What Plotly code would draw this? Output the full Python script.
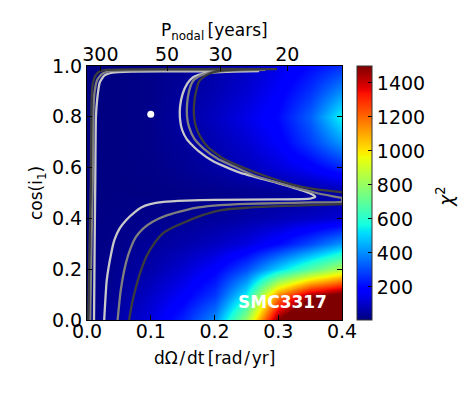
import numpy as np
import plotly.graph_objects as go

# chi^2 grid (rows = cos(i1), columns = dOmega/dt)
omega_dot = [0.0, 0.05, 0.1, 0.15, 0.2, 0.25, 0.3, 0.35, 0.4]
cos_i1 = [0.0, 0.1, 0.2, 0.3, 0.4, 0.5, 0.6, 0.7, 0.8, 0.9, 1.0]
chi2 = [
    [10, 60, 130, 240, 400, 800, 1500, 1800, 1900],
    [10, 40, 100, 170, 270, 540, 1150, 1450, 1550],
    [10, 30, 60, 110, 180, 300, 500, 680, 850],
    [10, 20, 40, 60, 90, 130, 200, 300, 420],
    [10, 15, 20, 30, 40, 55, 75, 95, 115],
    [10, 10, 10, 15, 20, 25, 30, 40, 55],
    [10, 10, 15, 30, 50, 80, 120, 170, 240],
    [10, 10, 20, 40, 70, 110, 170, 280, 420],
    [10, 10, 20, 50, 90, 140, 200, 330, 560],
    [10, 10, 20, 40, 70, 110, 170, 260, 400],
    [10, 10, 20, 35, 60, 90, 140, 200, 260],
]

# confidence contours
light_x = [0.011, 0.012, 0.013, 0.014, 0.016, 0.02, 0.027, 0.04, 0.07, 0.15, 0.27,
           0.23, 0.2, 0.18, 0.166, 0.157, 0.15, 0.146, 0.146, 0.149, 0.157, 0.175, 0.198,
           0.24, 0.298, 0.34, 0.355, 0.358, 0.35, 0.3, 0.2, 0.155, 0.12, 0.099, 0.085,
           0.075, 0.062, 0.051, 0.043, 0.038, 0.031, 0.027]
light_y = [0.0, 0.3, 0.55, 0.8, 0.87, 0.935, 0.962, 0.974, 0.978, 0.979, 0.98,
           0.978, 0.975, 0.968, 0.955, 0.93, 0.89, 0.84, 0.79, 0.75, 0.71, 0.665, 0.625,
           0.58, 0.54, 0.508, 0.492, 0.485, 0.478, 0.475, 0.473, 0.47, 0.465, 0.456, 0.443,
           0.425, 0.395, 0.36, 0.315, 0.263, 0.157, 0.0]

gray_x = [0.005, 0.007, 0.009, 0.01, 0.012, 0.016, 0.024, 0.036, 0.07, 0.15, 0.28,
          0.24, 0.21, 0.19, 0.176, 0.166, 0.16, 0.157, 0.157, 0.16, 0.168, 0.183, 0.205,
          0.23, 0.261, 0.31, 0.36, 0.39, 0.4, 0.4, 0.35, 0.3, 0.25, 0.209, 0.175, 0.155,
          0.125, 0.103, 0.088, 0.077, 0.068, 0.061, 0.053, 0.048]
gray_y = [0.0, 0.3, 0.55, 0.82, 0.9, 0.945, 0.97, 0.98, 0.983, 0.984, 0.985,
          0.983, 0.979, 0.972, 0.96, 0.94, 0.9, 0.85, 0.8, 0.76, 0.715, 0.675, 0.635,
          0.605, 0.57, 0.533, 0.5, 0.485, 0.48, 0.466, 0.463, 0.46, 0.457, 0.452, 0.443, 0.433,
          0.412, 0.387, 0.36, 0.328, 0.28, 0.224, 0.118, 0.0]

dark_x = [0.002, 0.004, 0.006, 0.007, 0.009, 0.013, 0.02, 0.03, 0.07, 0.15, 0.298,
          0.25, 0.22, 0.2, 0.186, 0.176, 0.171, 0.168, 0.168, 0.171, 0.178, 0.19, 0.211,
          0.245, 0.282, 0.33, 0.366, 0.4, None,
          0.4, 0.35, 0.3, 0.25, 0.209, 0.18, 0.155, 0.135, 0.119, 0.105, 0.093, 0.084,
          0.077, 0.071, 0.066]
dark_y = [0.0, 0.3, 0.55, 0.85, 0.93, 0.962, 0.979, 0.985, 0.987, 0.988, 0.988,
          0.987, 0.984, 0.977, 0.962, 0.94, 0.9, 0.85, 0.8, 0.76, 0.72, 0.68, 0.64,
          0.6, 0.565, 0.528, 0.512, 0.503, None,
          0.456, 0.452, 0.448, 0.442, 0.432, 0.412, 0.387, 0.365, 0.341, 0.3, 0.249, 0.19,
          0.131, 0.07, 0.0]

best_fit = (0.1, 0.81)
period_ticks = [300, 50, 30, 20]
cbar_ticks = [200, 400, 600, 800, 1000, 1200, 1400]


def mpl_jet():
    stops = [0, 0.11, 0.125, 0.34, 0.35, 0.375, 0.64, 0.65, 0.66, 0.89, 0.91, 1]
    r = np.interp(stops, [0, 0.35, 0.66, 0.89, 1], [0, 0, 1, 1, 0.5])
    g = np.interp(stops, [0, 0.125, 0.375, 0.64, 0.91, 1], [0, 0, 1, 1, 0, 0])
    b = np.interp(stops, [0, 0.11, 0.34, 0.65, 1], [0.5, 1, 1, 0, 0])
    return [[s, f"rgb({int(rr*255)},{int(gg*255)},{int(bb*255)})"]
            for s, rr, gg, bb in zip(stops, r, g, b)]


font = dict(family="DejaVu Sans", size=19, color="black")
title_font = dict(family="DejaVu Sans", size=17, color="black")

fig = go.Figure()
fig.add_trace(go.Heatmap(
    x=omega_dot, y=cos_i1, z=chi2, zsmooth="best", colorscale=mpl_jet(),
    zmin=5, zmax=1500,
    colorbar=dict(
        x=1.0588, xanchor="left", xpad=0, y=0.5, len=1, ypad=0, thickness=15,
        tickvals=cbar_ticks, ticks="inside", ticklen=4,
        tickcolor="black", outlinecolor="#333333", outlinewidth=1, tickfont=font,
    ),
))
for xs, ys, col in [(light_x, light_y, "#c8c8c8"), (gray_x, gray_y, "#7f7f7f"),
                    (dark_x, dark_y, "#3c3c3c")]:
    fig.add_trace(go.Scatter(x=xs, y=ys, mode="lines",
                             line=dict(color=col, width=2.3, shape="spline", smoothing=0.5),
                             showlegend=False, hoverinfo="skip"))
fig.add_trace(go.Scatter(x=[best_fit[0]], y=[best_fit[1]], mode="markers",
                         marker=dict(color="white", size=7), showlegend=False))
fig.add_trace(go.Scatter(x=[best_fit[0]], y=[best_fit[1]], xaxis="x2", mode="markers",
                         marker=dict(opacity=0), showlegend=False, hoverinfo="skip"))

fig.add_annotation(x=0.307, y=0.071, text="<b>SMC3317</b>", showarrow=False,
                   font=dict(family="DejaVu Sans", size=17, color="white"))

# axis titles placed as annotations
titles = [
    (0.5, -0.15, "dΩ\u200a/\u200adt\u2009[rad\u200a/\u200ayr]", 0, title_font),
    (0.5, 1.134, "P<sub>nodal</sub>\u2009[years]", 0, title_font),
    (-0.196, 0.5, "cos(i<sub>1</sub>)", -90, title_font),
    (1.404, 0.484, "<i>χ</i><sup>2</sup>", -90, font),
]
for tx, ty, txt, ang, fnt in titles:
    fig.add_annotation(x=tx, y=ty, xref="paper", yref="paper", showarrow=False,
                       xanchor="center", yanchor="middle", text=txt, textangle=ang,
                       font=fnt)

axis_common = dict(showgrid=False, zeroline=False, showline=True, linecolor="black",
                   linewidth=1.2, ticks="inside", ticklen=5, tickcolor="black",
                   tickfont=font)
fig.update_layout(
    width=474, height=395, autosize=False,
    margin=dict(l=79, r=140, t=58, b=83),
    paper_bgcolor="white", plot_bgcolor="white", font=font,
    xaxis=dict(range=[0, 0.4], dtick=0.1, tickformat=".1f", mirror=True,
               ticklabelstandoff=-6, **axis_common),
    xaxis2=dict(range=[0, 0.4], overlaying="x", side="top",
                tickvals=[2 * np.pi / p for p in period_ticks],
                ticktext=[str(p) for p in period_ticks], ticklabelstandoff=-4,
                **axis_common),
    yaxis=dict(range=[0, 1], dtick=0.2, tickformat=".1f", mirror="ticks", **axis_common),
)

fig.write_html("out.html")
